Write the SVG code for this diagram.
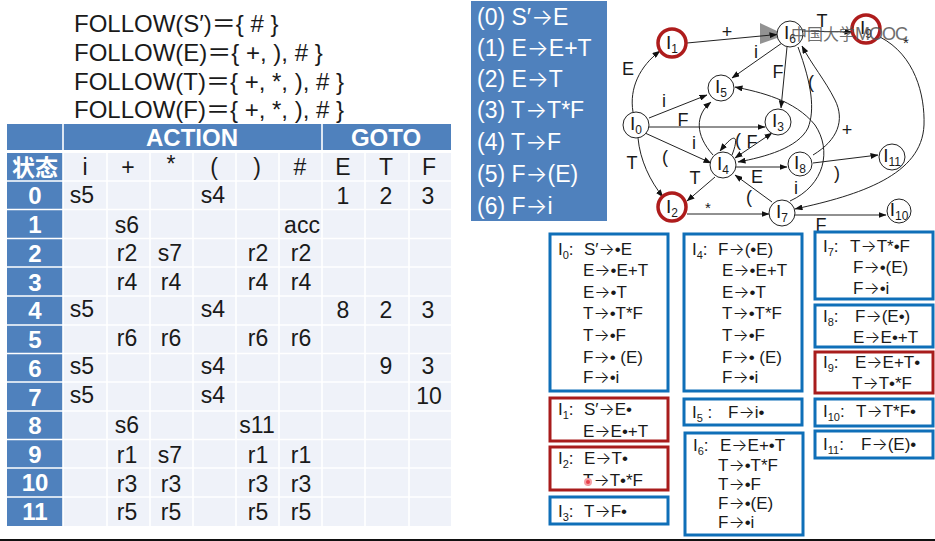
<svg xmlns="http://www.w3.org/2000/svg" width="935" height="541" viewBox="0 0 935 541">
<style>
text{font-family:"Liberation Sans",Arial,"Noto Sans CJK SC",sans-serif;fill:#1a1a1a}
.fo{font-size:24px}
.g{font-size:23px;fill:#fff}
.c{font-size:23px;text-anchor:middle}
.h{font-size:24px;font-weight:bold;fill:#fff;text-anchor:middle}
.it{font-size:17px}
.sub{font-size:11px}
.ar{font-family:Inter,sans-serif;font-weight:300}
.blue{fill:#fff;stroke:#0f6fb8;stroke-width:3}
.red{fill:#fff;stroke:#a81c1c;stroke-width:3}
.n{fill:#fff;stroke:#222;stroke-width:1}
.nr{fill:#fff;stroke:#ae1c1c;stroke-width:3.5}
.nt{font-size:19px;text-anchor:middle}
.nt .sub{font-size:12px}
.e{fill:none;stroke:#222;stroke-width:1;marker-end:url(#a)}
.l{font-size:18px;text-anchor:middle}
.tl{stroke:#fff;stroke-width:1.6}
</style>
<defs>
<marker id="a" viewBox="0 0 8 6" refX="7.5" refY="3" markerWidth="8" markerHeight="6" orient="auto" markerUnits="userSpaceOnUse"><path d="M0,0L8,3L0,6z" fill="#111"/></marker>
<marker id="as" viewBox="0 0 8 6" refX="0.5" refY="3" markerWidth="8" markerHeight="6" orient="auto" markerUnits="userSpaceOnUse"><path d="M8,0L0,3L8,6z" fill="#111"/></marker>
</defs>
<rect width="935" height="541" fill="#fff"/>

<g id="follow">
<text class="fo" x="74" y="32">FOLLOW(S′)＝{ # }</text>
<text class="fo" x="74" y="61">FOLLOW(E)＝{ +, ), # }</text>
<text class="fo" x="74" y="90">FOLLOW(T)＝{ +, *, ), # }</text>
<text class="fo" x="74" y="118">FOLLOW(F)＝{ +, *, ), # }</text>
</g>

<g id="table">
<rect x="7" y="124" width="444" height="26" fill="#4f81bd"/>
<rect x="7" y="153" width="56" height="373" fill="#4f81bd"/>
<rect x="63" y="153" width="388" height="373" fill="#eff2f9"/>
<path class="tl" d="M63,124V526M322,124V150M107,153V526M150,153V526M193,153V526M236,153V526M279,153V526M322,153V526M365,153V526M409,153V526"/>
<path class="tl" d="M7,181H451M7,209.500H451M7,238.500H451M7,267H451M7,296H451M7,325H451M7,353.500H451M7,382H451M7,411H451M7,439.500H451M7,468H451M7,497H451"/>
<text class="h" x="192" y="146">ACTION</text><text class="h" x="386" y="146">GOTO</text>
<text class="h" x="35" y="176" style="font-size:23px;font-family:'Noto Sans CJK SC',sans-serif">状态</text>
<g>
<text class="c" x="85" y="175">i</text><text class="c" x="128" y="175">+</text><text class="c" x="171" y="172">*</text><text class="c" x="214" y="175">(</text><text class="c" x="257" y="175">)</text><text class="c" x="300" y="175">#</text><text class="c" x="343" y="175">E</text><text class="c" x="386" y="175">T</text><text class="c" x="429" y="175">F</text>
<text class="h" x="35" y="204">0</text><text class="h" x="35" y="233">1</text><text class="h" x="35" y="262">2</text><text class="h" x="35" y="291">3</text><text class="h" x="35" y="319">4</text><text class="h" x="35" y="348">5</text><text class="h" x="35" y="377">6</text><text class="h" x="35" y="406">7</text><text class="h" x="35" y="434">8</text><text class="h" x="35" y="463">9</text><text class="h" x="35" y="491">10</text><text class="h" x="35" y="520">11</text>
<text class="c" x="82" y="203">s5</text><text class="c" x="213" y="203">s4</text><text class="c" x="343" y="204">1</text><text class="c" x="386" y="204">2</text><text class="c" x="428" y="204">3</text>
<text class="c" x="127" y="233">s6</text><text class="c" x="302" y="233">acc</text>
<text class="c" x="127" y="261">r2</text><text class="c" x="170" y="261">s7</text><text class="c" x="258" y="261">r2</text><text class="c" x="301" y="261">r2</text>
<text class="c" x="127" y="290">r4</text><text class="c" x="171" y="290">r4</text><text class="c" x="258" y="290">r4</text><text class="c" x="301" y="290">r4</text>
<text class="c" x="82" y="317">s5</text><text class="c" x="213" y="317">s4</text><text class="c" x="343" y="318">8</text><text class="c" x="386" y="318">2</text><text class="c" x="428" y="318">3</text>
<text class="c" x="127" y="346">r6</text><text class="c" x="171" y="346">r6</text><text class="c" x="258" y="346">r6</text><text class="c" x="301" y="346">r6</text>
<text class="c" x="82" y="374">s5</text><text class="c" x="213" y="374">s4</text><text class="c" x="386" y="374">9</text><text class="c" x="428" y="374">3</text>
<text class="c" x="82" y="403">s5</text><text class="c" x="213" y="403">s4</text><text class="c" x="429" y="404">10</text>
<text class="c" x="127" y="433">s6</text><text class="c" x="257" y="433">s11</text>
<text class="c" x="127" y="463">r1</text><text class="c" x="170" y="463">s7</text><text class="c" x="258" y="463">r1</text><text class="c" x="301" y="463">r1</text>
<text class="c" x="127" y="492">r3</text><text class="c" x="171" y="492">r3</text><text class="c" x="258" y="492">r3</text><text class="c" x="301" y="492">r3</text>
<text class="c" x="127" y="520">r5</text><text class="c" x="171" y="520">r5</text><text class="c" x="258" y="520">r5</text><text class="c" x="301" y="520">r5</text>
</g>
</g>

<g id="grammar">
<rect x="471" y="1" width="136" height="220" fill="#4f81bd"/>
<text class="g" x="477" y="25">(0) S′<tspan class="ar">→</tspan>E</text>
<text class="g" x="477" y="56">(1) E<tspan class="ar">→</tspan>E+T</text>
<text class="g" x="477" y="87">(2) E<tspan class="ar">→</tspan>T</text>
<text class="g" x="477" y="118">(3) T<tspan class="ar">→</tspan>T*F</text>
<text class="g" x="477" y="150">(4) T<tspan class="ar">→</tspan>F</text>
<text class="g" x="477" y="182">(5) F<tspan class="ar">→</tspan>(E)</text>
<text class="g" x="477" y="214">(6) F<tspan class="ar">→</tspan>i</text>
</g>

<path id="play-icon" d="M760,23L777,31L777,38L760,44z" fill="#777" opacity=".8"/>

<g id="connectors">
<path class="e" d="M687,43L777,34.500"/>
<path class="e" d="M633,112C629,88 640,66 660,51"/>
<path class="e" d="M649,118L707,95"/>
<path class="e" d="M649,127L765,127"/>
<path class="e" d="M645,133L711,163"/>
<path class="e" d="M638,138C640,160 650,181 663,197"/>
<path class="e" d="M782,43L732,78"/>
<path class="e" d="M787,47L781,108"/>
<path class="e" d="M798,47C812,85 815,110 808,128C798,148 765,157 738,162"/>
<path class="e" d="M813,155C838,140 845,120 835,100C825,80 812,65 802,46"/>
<path class="e" d="M880,37C915,55 925,95 924,125C922,175 860,195 795,209"/>
<path class="e" d="M713,155C695,135 695,115 711,102"/>
<path class="e" d="M732,155C738,140 738,128 720,151"/>
<path class="e" style="marker-start:url(#as)" d="M735,158L772,133"/>
<path class="e" d="M736,167L787,167"/>
<path class="e" d="M813,163L878,155"/>
<path class="e" d="M715,177L687,201"/>
<path class="e" d="M687,214L769,214"/>
<path class="e" d="M772,202L735,175"/>
<path class="e" d="M790,201C825,185 832,150 815,125C795,100 760,92 735,87"/>
<path class="e" d="M794,215L886,215"/>
<path class="e" d="M802,31L852,32"/>
</g>

<g id="edge-labels">
<text class="l" x="727" y="38">+</text>
<text class="l" x="628" y="75">E</text>
<text class="l" x="664" y="107">i</text>
<text class="l" x="683" y="126">F</text>
<text class="l" x="665" y="163">(</text>
<text class="l" x="632" y="169">T</text>
<text class="l" x="756" y="58">i</text>
<text class="l" x="778" y="78">F</text>
<text class="l" x="811" y="88">(</text>
<text class="l" x="847" y="136">+</text>
<text class="l" x="738" y="146">(</text>
<text class="l" x="752" y="148">F</text>
<text class="l" x="694" y="149">i</text>
<text class="l" x="695" y="184">T</text>
<text class="l" x="757" y="183">E</text>
<text class="l" x="837" y="179">)</text>
<text class="l" x="749" y="203">(</text>
<text class="l" x="796" y="194">i</text>
<text class="l" x="708" y="213" style="font-size:15px">*</text>
<text class="l" x="821" y="231">F</text>
<text class="l" x="822" y="27">T</text>
<text class="l" x="906" y="48" style="font-size:15px">*</text>
</g>

<g id="I0"><circle class="n" cx="636" cy="125" r="13"/><text class="nt" x="636" y="130">I<tspan class="sub" dy="4">0</tspan></text></g>
<g id="I1"><circle class="nr" cx="672" cy="43" r="14"/><text class="nt" x="672" y="49">I<tspan class="sub" dy="4">1</tspan></text></g>
<g id="I2"><circle class="nr" cx="672" cy="207" r="14"/><text class="nt" x="672" y="213">I<tspan class="sub" dy="4">2</tspan></text></g>
<g id="I3"><circle class="n" cx="778" cy="122" r="13"/><text class="nt" x="778" y="127">I<tspan class="sub" dy="4">3</tspan></text></g>
<g id="I4"><circle class="n" cx="723" cy="165" r="13"/><text class="nt" x="723" y="170">I<tspan class="sub" dy="4">4</tspan></text></g>
<g id="I5"><circle class="n" cx="721" cy="88" r="13"/><text class="nt" x="721" y="93">I<tspan class="sub" dy="4">5</tspan></text></g>
<g id="I6"><circle class="n" cx="790" cy="34" r="13"/><text class="nt" x="790" y="39">I<tspan class="sub" dy="4">6</tspan></text></g>
<g id="I7"><circle class="n" cx="782" cy="213" r="13"/><text class="nt" x="782" y="218">I<tspan class="sub" dy="4">7</tspan></text></g>
<g id="I8"><circle class="n" cx="800" cy="164" r="12"/><text class="nt" x="800" y="169">I<tspan class="sub" dy="4">8</tspan></text></g>
<g id="I9"><circle class="nr" cx="866" cy="29" r="14"/><text class="nt" x="866" y="34">I<tspan class="sub" dy="4">9</tspan></text></g>
<g id="I10"><circle class="n" cx="899" cy="211" r="12"/><text class="nt" x="899" y="216">I<tspan class="sub" dy="4">10</tspan></text></g>
<g id="I11"><circle class="n" cx="892" cy="157" r="13"/><text class="nt" x="892" y="162">I<tspan class="sub" dy="4">11</tspan></text></g>

<g id="set0"><rect class="blue" x="550" y="234" width="118" height="157"/>
<text class="it" x="558" y="255">I<tspan class="sub" dy="4">0</tspan><tspan dy="-4">:</tspan></text>
<text class="it" x="584" y="255">S′<tspan class="ar">→</tspan>•E</text><text class="it" x="583" y="276">E<tspan class="ar">→</tspan>•E+T</text><text class="it" x="583" y="298">E<tspan class="ar">→</tspan>•T</text><text class="it" x="583" y="319">T<tspan class="ar">→</tspan>•T*F</text><text class="it" x="583" y="341">T<tspan class="ar">→</tspan>•F</text><text class="it" x="583" y="363">F<tspan class="ar">→</tspan>• (E)</text><text class="it" x="583" y="383">F<tspan class="ar">→</tspan>•i</text></g>
<g id="set1"><rect class="red" x="550" y="398" width="118" height="43"/>
<text class="it" x="558" y="415">I<tspan class="sub" dy="4">1</tspan><tspan dy="-4">:</tspan></text>
<text class="it" x="584" y="415">S′<tspan class="ar">→</tspan>E•</text><text class="it" x="583" y="437">E<tspan class="ar">→</tspan>E•+T</text></g>
<g id="set2"><rect class="red" x="550" y="447" width="118" height="43"/>
<text class="it" x="558" y="464">I<tspan class="sub" dy="4">2</tspan><tspan dy="-4">:</tspan></text>
<text class="it" x="584" y="464">E<tspan class="ar">→</tspan>T•</text><text class="it" x="583" y="486">T<tspan class="ar">→</tspan>T•*F</text></g>
<g id="set3"><rect class="blue" x="550" y="497" width="118" height="27"/>
<text class="it" x="558" y="517">I<tspan class="sub" dy="4">3</tspan><tspan dy="-4">:</tspan></text>
<text class="it" x="584" y="517">T<tspan class="ar">→</tspan>F•</text></g>
<g id="set4"><rect class="blue" x="684" y="234" width="118" height="157"/>
<text class="it" x="692" y="255">I<tspan class="sub" dy="4">4</tspan><tspan dy="-4">:</tspan></text>
<text class="it" x="718" y="255">F<tspan class="ar">→</tspan>(•E)</text><text class="it" x="722" y="276">E<tspan class="ar">→</tspan>•E+T</text><text class="it" x="722" y="298">E<tspan class="ar">→</tspan>•T</text><text class="it" x="722" y="319">T<tspan class="ar">→</tspan>•T*F</text><text class="it" x="722" y="341">T<tspan class="ar">→</tspan>•F</text><text class="it" x="722" y="363">F<tspan class="ar">→</tspan>• (E)</text><text class="it" x="722" y="383">F<tspan class="ar">→</tspan>•i</text></g>
<g id="set5"><rect class="blue" x="684" y="399" width="118" height="26"/>
<text class="it" x="692" y="418">I<tspan class="sub" dy="4">5</tspan><tspan dy="-4"> :</tspan></text>
<text class="it" x="728" y="418">F<tspan class="ar">→</tspan>i•</text></g>
<g id="set6"><rect class="blue" x="685" y="433" width="118" height="102"/>
<text class="it" x="693" y="451">I<tspan class="sub" dy="4">6</tspan><tspan dy="-4">:</tspan></text>
<text class="it" x="720" y="451">E<tspan class="ar">→</tspan>E+•T</text><text class="it" x="718" y="471">T<tspan class="ar">→</tspan>•T*F</text><text class="it" x="718" y="490">T<tspan class="ar">→</tspan>•F</text><text class="it" x="718" y="509">F<tspan class="ar">→</tspan>•(E)</text><text class="it" x="718" y="528">F<tspan class="ar">→</tspan>•i</text></g>
<g id="set7"><rect class="blue" x="815" y="232" width="118" height="67"/>
<text class="it" x="823" y="252">I<tspan class="sub" dy="4">7</tspan><tspan dy="-4">:</tspan></text>
<text class="it" x="850" y="252">T<tspan class="ar">→</tspan>T*•F</text><text class="it" x="853" y="273">F<tspan class="ar">→</tspan>•(E)</text><text class="it" x="853" y="294">F<tspan class="ar">→</tspan>•i</text></g>
<g id="set8"><rect class="blue" x="815" y="305" width="118" height="42"/>
<text class="it" x="823" y="322">I<tspan class="sub" dy="4">8</tspan><tspan dy="-4">:</tspan></text>
<text class="it" x="855" y="322">F<tspan class="ar">→</tspan>(E•)</text><text class="it" x="853" y="343">E<tspan class="ar">→</tspan>E•+T</text></g>
<g id="set9"><rect class="red" x="815" y="352" width="118" height="41"/>
<text class="it" x="823" y="368">I<tspan class="sub" dy="4">9</tspan><tspan dy="-4">:</tspan></text>
<text class="it" x="855" y="368">E<tspan class="ar">→</tspan>E+T•</text><text class="it" x="852" y="389">T<tspan class="ar">→</tspan>T•*F</text></g>
<g id="set10"><rect class="blue" x="815" y="399" width="118" height="27"/>
<text class="it" x="823" y="417">I<tspan class="sub" dy="4">10</tspan><tspan dy="-4">:</tspan></text>
<text class="it" x="856" y="417">T<tspan class="ar">→</tspan>T*F•</text></g>
<g id="set11"><rect class="blue" x="815" y="431" width="118" height="27"/>
<text class="it" x="823" y="450">I<tspan class="sub" dy="4">11</tspan><tspan dy="-4">:</tspan></text>
<text class="it" x="861" y="450">F<tspan class="ar">→</tspan>(E)•</text></g>

<g id="overlay">
<text x="791" y="40" style="font-size:16px;fill:#555;font-family:'Noto Sans CJK SC',sans-serif" opacity=".85">中国大学</text>
<text x="855" y="40" style="font-size:18px;fill:#555" opacity=".85" textLength="53">MOOC</text>
<circle cx="588" cy="482" r="3" fill="#e8404a" stroke="#f5a0a5" stroke-width="2"/>
</g>
<rect x="0" y="539" width="935" height="2" fill="#111"/>
</svg>
